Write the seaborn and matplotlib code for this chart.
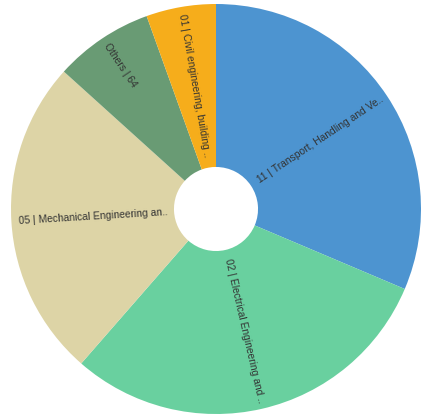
import numpy as np
import matplotlib
matplotlib.use("Agg")
import matplotlib.pyplot as plt
import seaborn as sns

# valeurs (ordre horaire depuis midi)
labels = [
    "11 | Transport, Handling and Ve..",
    "02 | Electrical Engineering and ..",
    "05 | Mechanical Engineering an..",
    "Others | 64",
    "01 | Civil engineering, building ..",
]
values = [257, 246, 207, 64, 45]
colors = ["#4d94d0", "#69d09f", "#ddd4a6", "#699b74", "#f6ad1b"]

sns.set_style("white")
plt.rcParams["font.family"] = ["Liberation Sans", "DejaVu Sans"]

fig = plt.figure(figsize=(4.21, 4.18), dpi=100)
ax = fig.add_axes([0, 0, 1, 1])

wedges, _ = ax.pie(values, colors=sns.color_palette(colors), startangle=90,
                   counterclock=False, radius=1,
                   wedgeprops=dict(width=0.795, linewidth=0))

# étiquettes radiales
for w, lab in zip(wedges, labels):
    mid = np.deg2rad((w.theta1 + w.theta2) / 2)
    deg = np.rad2deg(mid)
    if np.cos(mid) >= 0:
        r, rot = 0.25, deg
    else:
        r, rot = 0.965, deg + 180
    ax.text(r * np.cos(mid), r * np.sin(mid), lab, rotation=rot,
            rotation_mode="anchor", ha="left", va="center",
            fontsize=7.4, color="#333333")

# échelle : centre à (216, 209) px, rayon 205 px
s = 205
ax.set_aspect("auto")
ax.set_xlim(-216 / s, (421 - 216) / s)
ax.set_ylim(-209 / s, (418 - 209) / s)
ax.axis("off")

fig.savefig("out.png", dpi=100)
